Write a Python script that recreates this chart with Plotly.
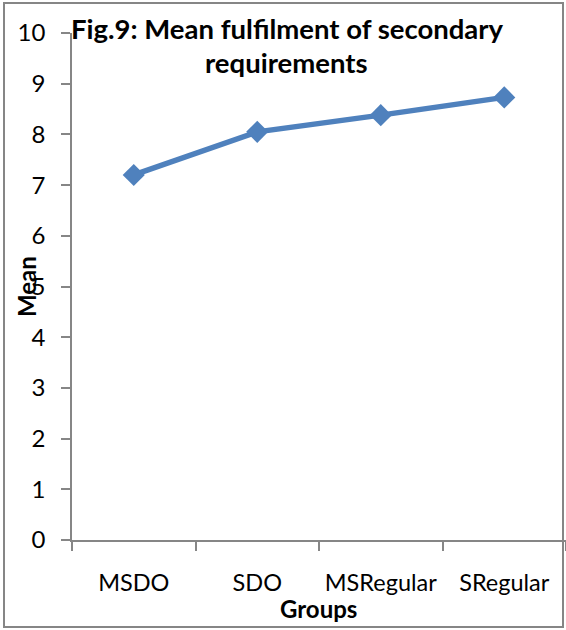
import plotly.graph_objects as go

groups = ["MSDO", "SDO", "MSRegular", "SRegular"]
means = [7.2, 8.05, 8.38, 8.73]
y_ticks = [0, 1, 2, 3, 4, 5, 6, 7, 8, 9, 10]

W, H = 566, 630
L, R, T, B = 72, 0, 33, 90
pw, ph = W - L - R, H - T - B

def px_x(x):
    return (x - L) / pw

def px_y(y):
    return (H - B - y) / ph

FONT = "Lato"
AX = "#868686"
BLUE = "#4F81BD"

fig = go.Figure()
fig.add_trace(go.Scatter(
    x=groups, y=means, mode="lines+markers",
    line=dict(color=BLUE, width=5.5),
    marker=dict(symbol="diamond", size=17, color=BLUE),
    showlegend=False, cliponaxis=False,
))

fig.update_layout(
    width=W, height=H,
    margin=dict(l=L, r=R, t=T, b=B),
    paper_bgcolor="white", plot_bgcolor="white",
    font=dict(family=FONT, size=23, color="black"),
    xaxis=dict(
        type="category", range=[-0.5, 3.5], tickson="boundaries",
        showline=True, linecolor=AX, linewidth=1.5,
        ticks="outside", ticklen=9, tickcolor=AX, tickwidth=1.5,
        showgrid=False, zeroline=False, ticklabelstandoff=21,
        tickfont=dict(family=FONT, size=23.5),
    ),
    yaxis=dict(
        range=[0, 10], tickvals=y_ticks,
        showline=True, linecolor=AX, linewidth=1.5,
        ticks="outside", ticklen=9, tickcolor=AX, tickwidth=1.5,
        showgrid=False, zeroline=False, ticklabelstandoff=11,
        tickfont=dict(family=FONT, size=24),
    ),
    annotations=[
        dict(text="<b>Fig.9: Mean fulfilment of secondary</b>", xref="paper", yref="paper",
             x=px_x(287), y=px_y(29), xanchor="center", yanchor="middle", showarrow=False,
             font=dict(family=FONT, size=27.5)),
        dict(text="<b>requirements</b>", xref="paper", yref="paper",
             x=px_x(286), y=px_y(63), xanchor="center", yanchor="middle", showarrow=False,
             font=dict(family=FONT, size=27.5)),
        dict(text="<b>Mean</b>", xref="paper", yref="paper", textangle=-90,
             x=px_x(26), y=px_y(287), xanchor="center", yanchor="middle", showarrow=False,
             font=dict(family=FONT, size=24)),
        dict(text="<b>Groups</b>", xref="paper", yref="paper",
             x=px_x(318), y=px_y(608), xanchor="center", yanchor="middle", showarrow=False,
             font=dict(family=FONT, size=24)),
    ],
    shapes=[dict(type="rect", xref="paper", yref="paper",
                 x0=px_x(4), x1=px_x(563), y0=px_y(627), y1=px_y(3),
                 line=dict(color=AX, width=2), layer="below")],
)

fig.write_html("out.html")
